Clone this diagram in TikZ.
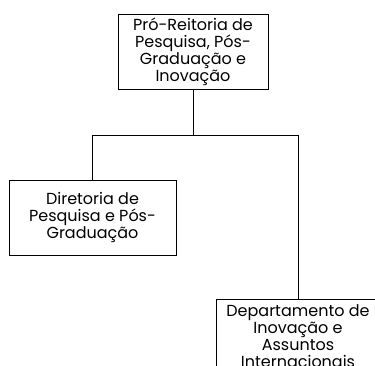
\documentclass[tikz,border=0pt]{standalone}
\usepackage{fontspec}
\setmainfont{Poppins}
\begin{document}
\begin{tikzpicture}[x=1pt,y=1pt,
  orgbox/.style={draw=black, line width=0.9pt, minimum height=75pt, align=center,
    inner sep=0pt, font=\fontsize{16}{17}\selectfont},
  link/.style={draw=black, line width=0.9pt}]
\useasboundingbox (0,0) rectangle (375,-365);
\clip (0,0) rectangle (375,-365);
\node[orgbox, minimum width=150pt] (pro) at (193,-51.5) {Pró-Reitoria de\\Pesquisa, Pós-\\Graduação e\\Inovação};
\node[orgbox, minimum width=167pt] (dir) at (92.5,-217.5) {Diretoria de\\Pesquisa e Pós-\\Graduação};
\node[orgbox, minimum width=164pt] (dep) at (298,-336.5) {Departamento de\\Inovação e\\Assuntos\\Internacionais};
\coordinate (j) at (193,-135);
\coordinate (jl) at (dir.north |- j);
\coordinate (jr) at (dep.north |- j);
\draw[link] (pro.south) -- (j);
\draw[link] (jl) -- (jr);
\draw[link] (jl) -- (dir.north);
\draw[link] (jr) -- (dep.north);
\end{tikzpicture}
\end{document}
